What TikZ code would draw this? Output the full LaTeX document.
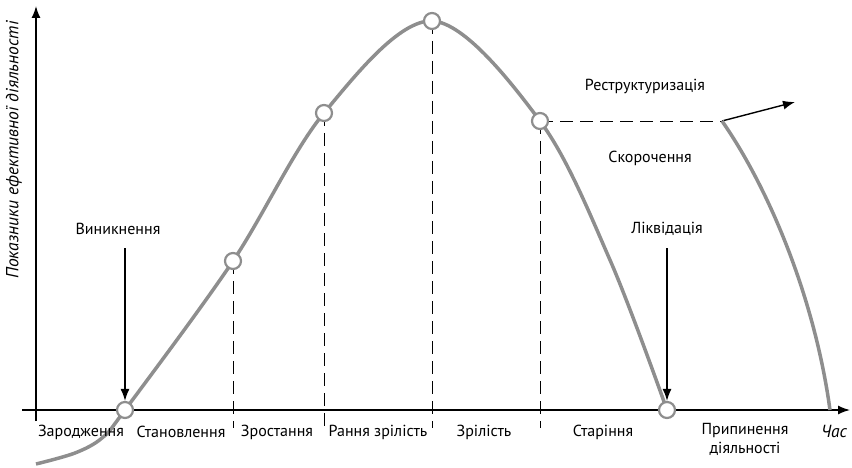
\documentclass[tikz,border=0pt]{standalone}
\usepackage{fontspec}
\setmainfont{PT Sans}
\usetikzlibrary{arrows.meta}
\definecolor{curvegray}{HTML}{8E8E8E}
\begin{document}
\begin{tikzpicture}[x=1pt,y=-1pt,
 axis/.style={line width=1.4pt, -{Latex[length=12pt,width=9pt]}},
 lifecurve/.style={curvegray, line width=3.5pt},
 pt/.style={circle, draw=curvegray, fill=white, line width=2.2pt, minimum size=16pt, inner sep=0pt},
 guide/.style={dash pattern=on 13pt off 7pt, line width=0.9pt},
 lbl/.style={font=\fontsize{16}{19}\selectfont, inner sep=1pt},
 itl/.style={font=\fontsize{17.5}{20}\selectfont\itshape, inner sep=1pt},
 pointer/.style={line width=1.3pt, -{Latex[length=12pt,width=9pt]}}
]
\useasboundingbox (0,0) rectangle (852,468);

% axes
\coordinate (ybot) at (36,421);
\coordinate (ytop) at (36,6);
\coordinate (xl) at (22,410);
\coordinate (xr) at (850,410);
\draw[axis] (ybot) -- (ytop);
\draw[axis] (xl) -- (xr);

% points
\coordinate (p0) at (125,410);
\coordinate (p1) at (233,261);
\coordinate (p2) at (324,113);
\coordinate (p3) at (432,21);
\coordinate (p4) at (540,121);
\coordinate (p5) at (667,410);

% guides
\coordinate (g1) at (233,428);
\coordinate (g2) at (324,428);
\coordinate (g3) at (432,428);
\coordinate (g4) at (540,428);
\coordinate (rs) at (722,121);
\coordinate (re) at (795,102);
\draw[guide] (p1) -- (g1);
\draw[guide] (p2) -- (g2);
\draw[guide] (p3) -- (g3);
\draw[guide] (p4) -- (g4);
\draw[guide] (p4) -- (rs);
\draw[line width=1.4pt, -{Latex[length=12pt,width=9pt]}] (rs) -- (re);

% curves
\draw[lifecurve] plot[smooth, tension=0.55] coordinates {(36,464) (75,453) (102,438) (125,410) (233,261) (324,113) (432,21) (540,121) (610,260) (667,410)};
\draw[lifecurve] (rs) .. controls (770,190) and (815,300) .. (830,410);

% circles
\node[pt] (c0) at (p0) {};
\node[pt] (c1) at (p1) {};
\node[pt] (c2) at (p2) {};
\node[pt] (c3) at (p3) {};
\node[pt] (c4) at (p4) {};
\node[pt] (c5) at (p5) {};

% labels
\node[lbl] (vyn) at (118,229) {Виникнення};
\node[lbl] (likv) at (667,229) {Ліквідація};
\node[lbl] at (645,86) {Реструктуризація};
\node[lbl] at (650,158) {Скорочення};
\coordinate (a0) at (125,248);
\coordinate (a5) at (667,248);
\draw[pointer] (a0) -- (c0.north);
\draw[pointer] (a5) -- (c5.north);

\node[lbl] at (81,432) {Зародження};
\node[lbl] at (181,432) {Становлення};
\node[lbl] at (277,432) {Зростання};
\node[lbl] at (378,432) {Рання зрілість};
\node[lbl] at (484,432) {Зрілість};
\node[lbl] at (603,432) {Старіння};
\node[lbl, align=center] at (745,439) {Припинення\\діяльності};
\node[itl] at (834,431) {Час};
\node[itl, rotate=90] at (14,150) {Показники ефективної діяльності};
\end{tikzpicture}
\end{document}
